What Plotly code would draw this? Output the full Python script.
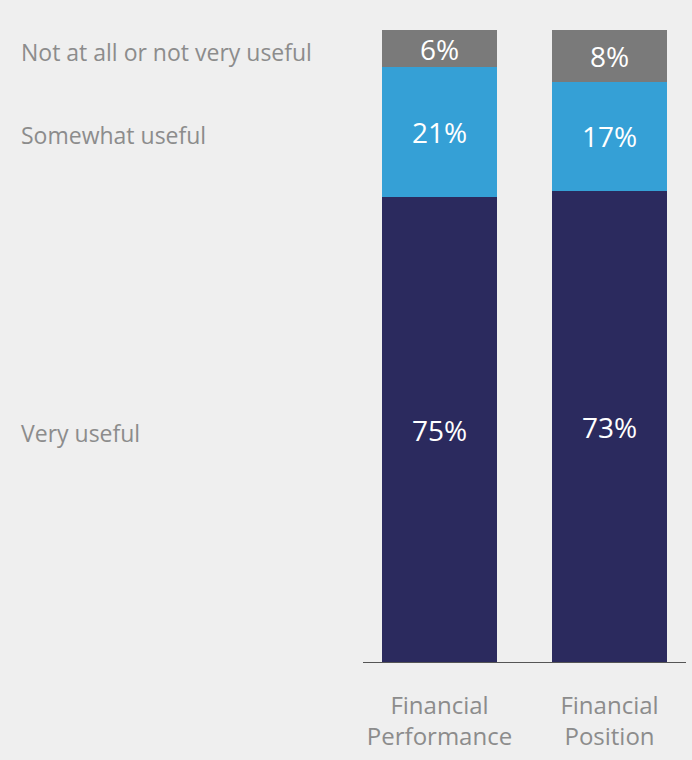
import plotly.graph_objects as go

categories = ["Financial<br>Performance", "Financial<br>Position"]
series_names = ["Very useful", "Somewhat useful", "Not at all or not very useful"]
very_useful = [75, 73]
somewhat_useful = [21, 17]
not_useful = [6, 8]
colors = ["#2b2a5e", "#35a0d6", "#7a7a7a"]

series_values = [very_useful, somewhat_useful, not_useful]

fig = go.Figure()
for name, vals, col in zip(series_names, series_values, colors):
    fig.add_trace(go.Bar(
        x=categories, y=vals, name=name,
        marker=dict(color=col, line=dict(width=0)),
        text=[f"{v}%" for v in vals], textposition="inside",
        insidetextanchor="middle", textangle=0,
        textfont=dict(family="Open Sans", size=28, color="white"),
        hoverinfo="skip",
    ))

L, R = 363, 6
W = 692
tot = sum(v[0] for v in series_values)
cum = 0
for name, vals in zip(series_names, series_values):
    share = vals[0] / tot * 100
    mid = cum + share / 2
    cum += share
    fig.add_annotation(
        x=(19 - L) / (W - L - R), xref="paper", y=mid, yref="y", text=name,
        showarrow=False, xanchor="left", yanchor="middle", yshift=-3,
        font=dict(family="Open Sans", size=23, color="#8c8c8c"),
    )

fig.update_layout(
    barmode="stack", barnorm="percent", bargap=0.327,
    width=692, height=760,
    margin=dict(l=L, r=R, t=30, b=98),
    paper_bgcolor="#efefef", plot_bgcolor="#efefef",
    showlegend=False,
    uniformtext=dict(mode="show", minsize=28),
    font=dict(family="Open Sans"),
)
fig.update_xaxes(
    range=[-0.45, 1.45], showline=True, linecolor="#555555", linewidth=1,
    ticks="", showgrid=False, ticklabelstandoff=22,
    tickfont=dict(family="Open Sans", size=24, color="#8c8c8c"),
)
fig.update_yaxes(range=[0, 100], visible=False, showgrid=False)

fig.write_html("out.html", config={"displayModeBar": False},
               post_script="document.body.style.margin='0px';document.body.style.background='#efefef';")
